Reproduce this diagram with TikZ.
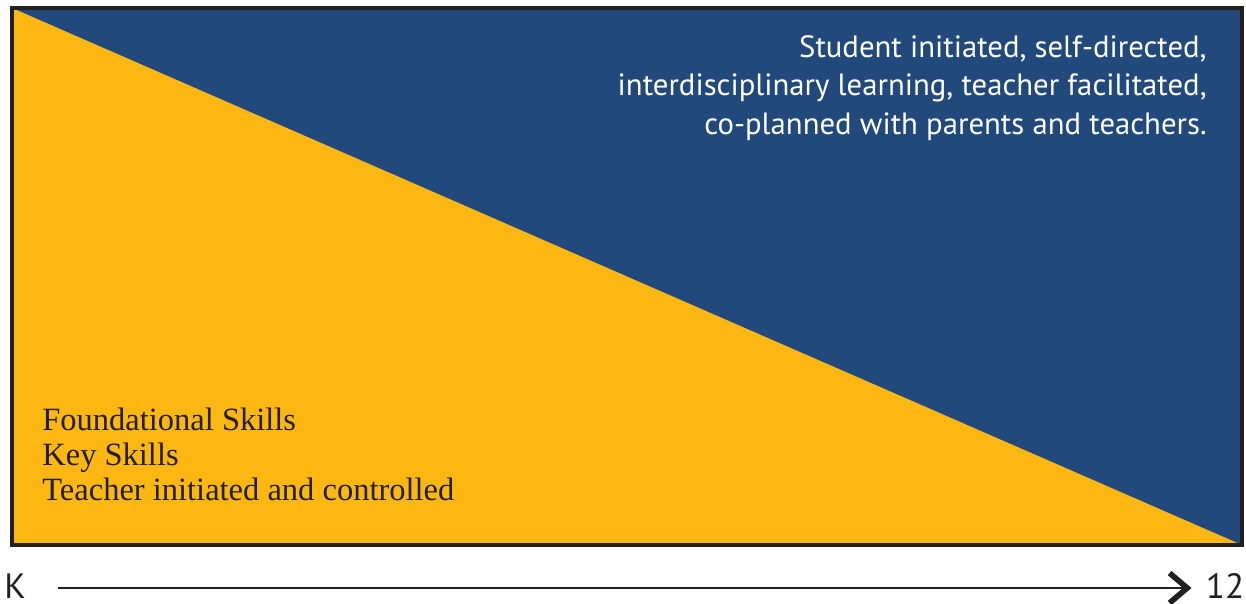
\documentclass[tikz,border=0pt]{standalone}
\usepackage{xcolor}
\usepackage{fontspec}
\setmainfont{Liberation Serif}
\newfontfamily\labelfont{PT Sans}
\usetikzlibrary{calc,positioning,arrows.meta}

\definecolor{gradeblue}{RGB}{33,73,124}
\definecolor{gradeyellow}{RGB}{253,183,19}
\definecolor{frameink}{RGB}{35,31,32}

\tikzset{
  studenttext/.style={text=white,align=right,anchor=north east,
    font=\labelfont\fontsize{17.5}{22}\selectfont,inner sep=0pt},
  teachertext/.style={text=frameink,align=left,anchor=south west,
    font=\fontsize{18.5}{20}\selectfont,inner sep=0pt},
  gradetext/.style={text=frameink,font=\labelfont\fontsize{20}{22}\selectfont,inner sep=0pt}
}

\begin{document}
\begin{tikzpicture}[x=0.02cm,y=-0.02cm]
\useasboundingbox (0,0) rectangle (1246,604);
% corners of the box
\coordinate (TL) at (12,8);
\coordinate (TR) at (1242,8);
\coordinate (BR) at (1242,545);
\coordinate (BL) at (12,545);
\fill[gradeblue] (TL) rectangle (BR);
\fill[gradeyellow] (TL) -- (BL) -- (BR) -- cycle;
\draw[frameink,line width=2.8pt] (TL) rectangle (BR);
% texts
\node[studenttext] (student) at (1207,35)
  {Student initiated, self-directed,\\ interdisciplinary learning, teacher facilitated,\\ co-planned with parents and teachers.};
\node[teachertext] (teacher) at (42,501)
  {Foundational Skills\\ Key Skills\\ Teacher initiated and controlled};
% grade axis
\node[gradetext] (K) at (15,586) {K};
\node[gradetext] (twelve) at (1225,586) {12};
\draw[frameink,line width=1.7pt,-{Straight Barb[length=10pt,width=17pt,line width=3.2pt]}]
  ($(K.east)+(32,2)$) -- ($(twelve.west)+(-14,2)$);
\end{tikzpicture}
\end{document}
